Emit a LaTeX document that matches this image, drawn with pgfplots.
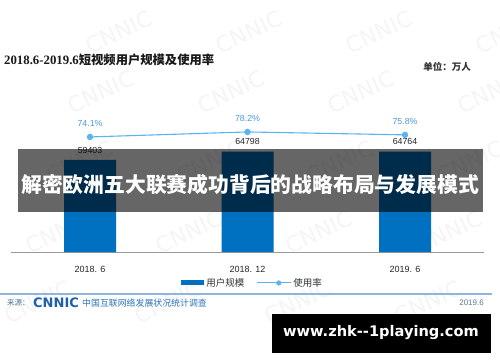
\documentclass[border=0pt]{standalone}
\usepackage{pgfplots}
\pgfplotsset{compat=1.18}
\usepackage{fontspec}
\setmainfont{Liberation Sans}
\newfontfamily\cjk{Noto Sans CJK SC}
\newfontfamily\serif{Liberation Serif}
\newfontfamily\dv{DejaVu Sans}
\definecolor{barblue}{HTML}{0070C0}
\definecolor{lineblue}{HTML}{5AB4EE}
\definecolor{pctblue}{HTML}{4A9BE0}
\definecolor{footline}{HTML}{8EB4E3}
\definecolor{srcblue}{HTML}{2E75B6}
\definecolor{logoblue}{HTML}{1F5FAD}
\begin{document}
\begin{tikzpicture}[x=1pt,y=1pt]
\useasboundingbox (0,0) rectangle (500,362);
\fill[white] (0,0) rectangle (500,362);
% faint background watermark
\foreach \xx in {20,150,280,410} {
  \foreach \yy in {60,130,200,270,330} {
    \node[rotate=25, text=black!4, font=\dv\fontsize{22}{22}\selectfont] at (\xx+ \yy*0.3,\yy) {CNNIC};
  }
}
% title
\node[anchor=west, text=black!90, inner sep=0] at (4,302) {\serif\bfseries\fontsize{12.8}{13}\selectfont 2018.6-2019.6\cjk\bfseries\fontsize{12.3}{13}\selectfont 短视频用户规模及使用率};
\node[anchor=east, text=black!80, inner sep=0] at (471,295) {\cjk\bfseries\fontsize{9.5}{10}\selectfont 单位：万人};

\begin{axis}[
  at={(11.25pt,110pt)}, anchor=south west, scale only axis,
  width=472.5pt, height=142.5pt,
  xmin=-0.5, xmax=2.5, ymin=0, ymax=92000,
  axis x line=bottom, hide y axis,
  x axis line style={-, draw=black!40, line width=0.9pt},
  xtick={0,1,2}, xticklabels={2018. 6, 2018. 12, 2019. 6},
  major tick length=0pt,
  xticklabel style={anchor=center, yshift=-17pt, font=\fontsize{9}{10}\selectfont, text=black!85},
  ybar, bar width=52pt,
  point meta=explicit symbolic,
  nodes near coords,
  every node near coord/.append style={anchor=center, yshift=10pt, font=\fontsize{8.8}{9}\selectfont, text=black!85},
  clip=false,
  legend columns=2,
  legend style={draw=none, fill=none, at={(0.5106,-0.2175)}, anchor=center,
    font=\cjk\fontsize{9.5}{10}\selectfont, text=black!80,
    /tikz/every even column/.append style={column sep=10pt}},
  legend image code/.code={\fill[barblue] (0pt,-2.5pt) rectangle (23pt,2.5pt);},
]
\addplot[fill=barblue, draw=none] coordinates {(0,59403) [59403] (1,64798) [64798] (2,64764) [64764]};
\addlegendentry{用户规模}
\addlegendimage{legend image code/.code={\draw[lineblue, line width=1pt] (0pt,0pt) -- (34pt,0pt); \fill[lineblue] (22pt,0pt) circle (2.3pt);}}
\addlegendentry{使用率}
\end{axis}

\begin{axis}[
  at={(11.25pt,110pt)}, anchor=south west, scale only axis,
  width=472.5pt, height=142.5pt,
  xmin=-0.5, xmax=2.5, ymin=-20.2, ymax=96.6,
  hide axis, clip=false,
  point meta=explicit symbolic,
  nodes near coords,
  every node near coord/.append style={anchor=center, yshift=13pt, font=\fontsize{8.8}{9}\selectfont, text=pctblue},
]
\addplot[lineblue, line width=1.1pt, mark=*, mark size=2.6pt, mark options={fill=lineblue, draw=lineblue}] coordinates {(0,74.1) [74.1\%] (1,78.2) [78.2\%] (2,75.8) [75.8\%]};
\end{axis}

% banner overlay
\fill[black, opacity=0.6] (18,150) rectangle (483,213);
\node[text=white, inner sep=0] at (250,177) {\cjk\bfseries\fontsize{20.8}{21}\selectfont 解密欧洲五大联赛成功背后的战略布局与发展模式};

% footer
\draw[footline, line width=1.2pt] (0,68) -- (492,68);
\node[anchor=west, inner sep=0, text=srcblue!70!gray] at (7,59) {\cjk\fontsize{7.5}{8}\selectfont 来源：};
\node[anchor=west, inner sep=0, text=logoblue] at (33,59) {\dv\bfseries\fontsize{13}{13}\selectfont CNNIC};
\node[anchor=west, inner sep=0, text=srcblue] at (82,59) {\cjk\fontsize{8.9}{9}\selectfont 中国互联网络发展状况统计调查};
\node[anchor=east, inner sep=0, text=srcblue!50!gray] at (484,59) {\fontsize{8}{8}\selectfont 2019.6};

% site watermark
\fill[black] (272,9) rectangle (491,48);
\node[text=white, inner sep=0] at (381,29) {\dv\bfseries\fontsize{14.6}{15}\selectfont www.zhk--1playing.com};
\end{tikzpicture}
\end{document}
